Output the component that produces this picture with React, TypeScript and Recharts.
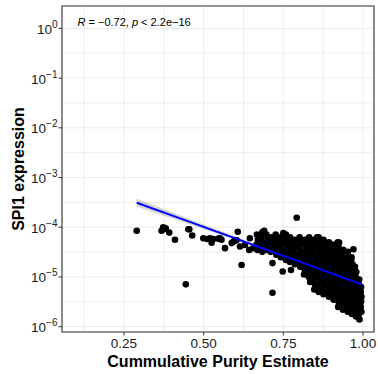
import { ComposedChart, Scatter, Area, XAxis, YAxis, CartesianGrid, ReferenceArea } from 'recharts';

// isolated samples outside the main cloud
const outlierPurity = [
  0.29, 0.368, 0.373, 0.381, 0.375, 0.392, 0.41, 0.452, 0.455, 0.464, 0.444,
  0.499, 0.511, 0.52, 0.525, 0.53, 0.551, 0.546, 0.556, 0.567, 0.588, 0.593, 0.598,
  0.607, 0.603, 0.614, 0.619, 0.629, 0.645, 0.643, 0.656, 0.677, 0.69, 0.687,
  0.792, 0.716, 0.716, 0.748, 0.774, 0.75, 0.856, 0.925, 0.97, 0.964,
];
const outlierSpi1 = [
  8.5e-5, 8.5e-5, 1.0e-4, 9.5e-5, 9.1e-5, 7.8e-5, 5.6e-5, 9.1e-5, 9.1e-5, 6.8e-5, 7.1e-6,
  6.0e-5, 5.8e-5, 6.0e-5, 4.9e-5, 5.8e-5, 6.0e-5, 5.9e-5, 5.6e-5, 3.8e-5, 4.8e-5, 5.1e-5, 5.4e-5,
  8.1e-5, 5.5e-5, 4.1e-5, 1.74e-5, 4.4e-5, 6.0e-5, 3.5e-5, 3.8e-5, 5.5e-5, 8.5e-5, 4.1e-5,
  1.55e-4, 1.9e-5, 4.8e-6, 1.29e-5, 1.38e-5, 7.6e-5, 6.3e-5, 4.9e-5, 3.6e-5, 2.5e-5,
];

// dense cloud of high-purity samples, listed strip by strip
const clusterPurity = [
  0.667, 0.670, 0.666, 0.669,
  0.684, 0.681, 0.685, 0.682, 0.684,
  0.697, 0.700, 0.696, 0.699,
  0.713, 0.711, 0.714, 0.710,
  0.726, 0.729, 0.727, 0.725, 0.728,
  0.741, 0.743, 0.740, 0.744, 0.742,
  0.758, 0.756, 0.759, 0.755, 0.757, 0.758,
  0.771, 0.773, 0.770, 0.774, 0.772, 0.771,
  0.786, 0.788, 0.785, 0.789, 0.787, 0.786,
  0.801, 0.803, 0.800, 0.804, 0.802, 0.801, 0.803,
  0.818, 0.815, 0.819, 0.817, 0.816, 0.818, 0.817, 0.815,
  0.831, 0.833, 0.830, 0.834, 0.832, 0.831, 0.833, 0.832, 0.830, 0.834,
  0.846, 0.848, 0.845, 0.849, 0.847, 0.846, 0.848, 0.847, 0.845, 0.849, 0.847,
  0.861, 0.863, 0.860, 0.864, 0.862, 0.861, 0.863, 0.862, 0.860, 0.864, 0.862, 0.861,
  0.876, 0.878, 0.875, 0.879, 0.877, 0.876, 0.878, 0.877, 0.875, 0.879, 0.877, 0.876,
  0.893, 0.890, 0.894, 0.892, 0.891, 0.893, 0.892, 0.890, 0.894, 0.892, 0.891, 0.893,
  0.908, 0.905, 0.909, 0.907, 0.906, 0.908, 0.907, 0.905, 0.909, 0.907, 0.906, 0.908,
  0.921, 0.923, 0.920, 0.924, 0.922, 0.921, 0.923, 0.922, 0.920, 0.924, 0.922, 0.921, 0.923, 0.922,
  0.938, 0.935, 0.939, 0.937, 0.936, 0.938, 0.937, 0.935, 0.939, 0.937, 0.936, 0.938, 0.937,
  0.953, 0.950, 0.954, 0.952, 0.951, 0.953, 0.952, 0.950, 0.954, 0.952, 0.951, 0.953, 0.952,
  0.963, 0.967, 0.965, 0.964, 0.966, 0.965, 0.963, 0.967, 0.965, 0.964, 0.966, 0.965,
  0.975, 0.979, 0.977, 0.976, 0.978, 0.977, 0.975, 0.979, 0.977, 0.976, 0.978,
  0.988, 0.987, 0.989, 0.988, 0.986, 0.990, 0.988, 0.987, 0.989,
  0.994, 0.993, 0.995, 0.994, 0.993, 0.995,
];
const clusterSpi1 = [
  7.1e-5, 5.6e-5, 4.5e-5, 3.5e-5,
  7.9e-5, 6.3e-5, 5.0e-5, 4.0e-5, 3.2e-5,
  7.1e-5, 5.6e-5, 4.5e-5, 3.5e-5,
  6.3e-5, 5.0e-5, 4.0e-5, 3.2e-5,
  7.1e-5, 5.6e-5, 4.5e-5, 3.5e-5, 2.8e-5,
  6.3e-5, 5.0e-5, 4.0e-5, 3.2e-5, 2.5e-5,
  7.1e-5, 5.6e-5, 4.5e-5, 3.5e-5, 2.8e-5, 2.2e-5,
  6.3e-5, 5.0e-5, 4.0e-5, 3.2e-5, 2.5e-5, 2.0e-5,
  5.6e-5, 4.5e-5, 3.5e-5, 2.8e-5, 2.2e-5, 1.8e-5,
  6.3e-5, 5.0e-5, 4.0e-5, 3.2e-5, 2.5e-5, 2.0e-5, 1.6e-5,
  5.6e-5, 4.5e-5, 3.5e-5, 2.8e-5, 2.2e-5, 1.8e-5, 1.4e-5, 1.12e-5,
  6.3e-5, 5.0e-5, 4.0e-5, 3.2e-5, 2.5e-5, 2.0e-5, 1.6e-5, 1.26e-5, 1.0e-5, 7.9e-6,
  5.6e-5, 4.5e-5, 3.5e-5, 2.8e-5, 2.2e-5, 1.8e-5, 1.4e-5, 1.12e-5, 8.9e-6, 7.1e-6, 5.6e-6,
  6.3e-5, 5.0e-5, 4.0e-5, 3.2e-5, 2.5e-5, 2.0e-5, 1.6e-5, 1.26e-5, 1.0e-5, 7.9e-6, 6.3e-6, 5.0e-6,
  5.6e-5, 4.5e-5, 3.5e-5, 2.8e-5, 2.2e-5, 1.8e-5, 1.4e-5, 1.12e-5, 8.9e-6, 7.1e-6, 5.6e-6, 4.5e-6,
  5.0e-5, 4.0e-5, 3.2e-5, 2.5e-5, 2.0e-5, 1.6e-5, 1.26e-5, 1.0e-5, 7.9e-6, 6.3e-6, 5.0e-6, 4.0e-6,
  4.5e-5, 3.5e-5, 2.8e-5, 2.2e-5, 1.8e-5, 1.4e-5, 1.12e-5, 8.9e-6, 7.1e-6, 5.6e-6, 4.5e-6, 3.5e-6,
  5.0e-5, 4.0e-5, 3.2e-5, 2.5e-5, 2.0e-5, 1.6e-5, 1.26e-5, 1.0e-5, 7.9e-6, 6.3e-6, 5.0e-6, 4.0e-6, 3.2e-6, 2.5e-6,
  3.5e-5, 2.8e-5, 2.2e-5, 1.8e-5, 1.4e-5, 1.12e-5, 8.9e-6, 7.1e-6, 5.6e-6, 4.5e-6, 3.5e-6, 2.8e-6, 2.2e-6,
  3.2e-5, 2.5e-5, 2.0e-5, 1.6e-5, 1.26e-5, 1.0e-5, 7.9e-6, 6.3e-6, 5.0e-6, 4.0e-6, 3.2e-6, 2.5e-6, 2.0e-6,
  2.2e-5, 1.8e-5, 1.4e-5, 1.12e-5, 8.9e-6, 7.1e-6, 5.6e-6, 4.5e-6, 3.5e-6, 2.8e-6, 2.2e-6, 1.8e-6,
  1.6e-5, 1.26e-5, 1.0e-5, 7.9e-6, 6.3e-6, 5.0e-6, 4.0e-6, 3.2e-6, 2.5e-6, 2.0e-6, 1.6e-6,
  8.9e-6, 7.1e-6, 5.6e-6, 4.5e-6, 3.5e-6, 2.8e-6, 2.2e-6, 1.8e-6, 1.4e-6,
  6.3e-6, 5.0e-6, 4.0e-6, 3.2e-6, 2.5e-6, 2.0e-6,
];

// linear fit (log scale) and its confidence band
const fitPurity = [0.29, 0.45, 0.65, 0.85, 0.995];
const fitSpi1 = [3.1e-4, 1.33e-4, 4.54e-5, 1.56e-5, 7.14e-6];
const fitLower = [2.57e-4, 1.17e-4, 4.29e-5, 1.51e-5, 6.75e-6];
const fitUpper = [3.8e-4, 1.51e-4, 4.8e-5, 1.6e-5, 7.57e-6];

const xMajorTicks = [0.25, 0.5, 0.75, 1.0];
const xMinorTicks = [0.125, 0.375, 0.625, 0.875];
const yMajorExp = [-6, -5, -4, -3, -2, -1, 0];
const yMinorExp = [-5.5, -4.5, -3.5, -2.5, -1.5, -0.5];

const X_DOMAIN: [number, number] = [0.0555, 1.0345];
const Y_DOMAIN: [number, number] = [10 ** -6.107, 10 ** 0.45];

const points = [
  ...outlierPurity.map((x, i) => ({ x, y: outlierSpi1[i] })),
  ...clusterPurity.map((x, i) => ({ x, y: clusterSpi1[i] })),
];
const fitData = fitPurity.map((x, i) => ({ x, y: fitSpi1[i], band: [fitLower[i], fitUpper[i]] }));

const xTicks = [...xMinorTicks, ...xMajorTicks].sort((a, b) => a - b);
const yTicks = [...yMajorExp, ...yMinorExp].sort((a, b) => a - b).map((e) => 10 ** e);

const TEXT = '#1a1a1a';
const FONT = '"Liberation Sans", Arial, Helvetica, sans-serif';

const XTick = (props: any) => {
  const { x, y, payload } = props;
  const v = payload.value;
  if (!xMajorTicks.some((t) => Math.abs(t - v) < 1e-9)) return <g />;
  return (
    <g>
      <line x1={x} x2={x} y1={y} y2={y + 3.5} stroke="#333" strokeWidth={1} />
      <text x={x} y={y + 16} textAnchor="middle" fontSize={13.5} fill={TEXT} fontFamily={FONT}>
        {v.toFixed(2)}
      </text>
    </g>
  );
};

const YTick = (props: any) => {
  const { x, y, payload } = props;
  const e = Math.log10(payload.value);
  const exp = Math.round(e);
  if (Math.abs(e - exp) > 1e-6) return <g />;
  const sup = exp < 0 ? `\u2212${-exp}` : `${exp}`;
  return (
    <g>
      <line x1={x - 3.5} x2={x} y1={y} y2={y} stroke="#333" strokeWidth={1} />
      <text x={x - 4.5} y={y + 5.5} textAnchor="end" fontSize={13.5} fill={TEXT} fontFamily={FONT}>
        <tspan>10</tspan>
        <tspan dy={-6} fontSize={10}>{sup}</tspan>
      </text>
    </g>
  );
};

export default function App() {
  return (
    <div style={{ position: 'relative', width: 378, height: 374, background: '#fff', fontFamily: FONT }}>
      <style>{'body{margin:0}'}</style>
      <ComposedChart width={378} height={374} margin={{ top: 6, right: 4, bottom: 0, left: 0 }}>
        <CartesianGrid stroke="#ebebeb" strokeWidth={1} />
        <XAxis
          type="number"
          dataKey="x"
          domain={X_DOMAIN}
          allowDataOverflow
          ticks={xTicks}
          interval={0}
          tick={XTick}
          tickLine={false}
          axisLine={false}
          tickSize={0}
          tickMargin={0}
          height={42}
        />
        <YAxis
          type="number"
          scale="log"
          domain={Y_DOMAIN}
          allowDataOverflow
          ticks={yTicks}
          interval={0}
          tick={YTick}
          tickLine={false}
          axisLine={false}
          tickSize={0}
          tickMargin={0}
          width={62}
        />
        <Area
          data={fitData}
          dataKey="band"
          type="linear"
          stroke="none"
          fill="#999999"
          fillOpacity={0.4}
          isAnimationActive={false}
        />
        <Scatter
          data={points}
          dataKey="y"
          isAnimationActive={false}
          shape={(p: any) => <circle cx={p.cx} cy={p.cy} r={3.3} fill="#000" />}
        />
        {/* fitted line drawn as a scatter line so it sits above the points */}
        <Scatter
          data={fitData}
          dataKey="y"
          line={{ stroke: '#0000ff', strokeWidth: 2 }}
          lineType="joint"
          shape={() => <g />}
          isAnimationActive={false}
        />
        <ReferenceArea
          x1={X_DOMAIN[0]}
          x2={X_DOMAIN[1]}
          y1={Y_DOMAIN[0]}
          y2={Y_DOMAIN[1]}
          fill="none"
          stroke="#333333"
          strokeWidth={1.1}
          ifOverflow="visible"
        />
      </ComposedChart>
      <svg width={378} height={374} style={{ position: 'absolute', left: 0, top: 0, pointerEvents: 'none' }}>
        <text x={77.5} y={25.5} fontSize={11} fill="#000" fontFamily={FONT}>
          <tspan fontStyle="italic">R</tspan>
          <tspan>{' = \u22120.72, '}</tspan>
          <tspan fontStyle="italic">p</tspan>
          <tspan>{' < 2.2e\u221216'}</tspan>
        </text>
        <text
          transform="translate(23.5,169) rotate(-90)"
          textAnchor="middle"
          fontSize={16}
          fontWeight="bold"
          fill="#000"
          fontFamily={FONT}
        >
          SPI1 expression
        </text>
        <text x={218} y={366.5} textAnchor="middle" fontSize={16} fontWeight="bold" fill="#000" fontFamily={FONT}>
          Cummulative Purity Estimate
        </text>
      </svg>
    </div>
  );
}
